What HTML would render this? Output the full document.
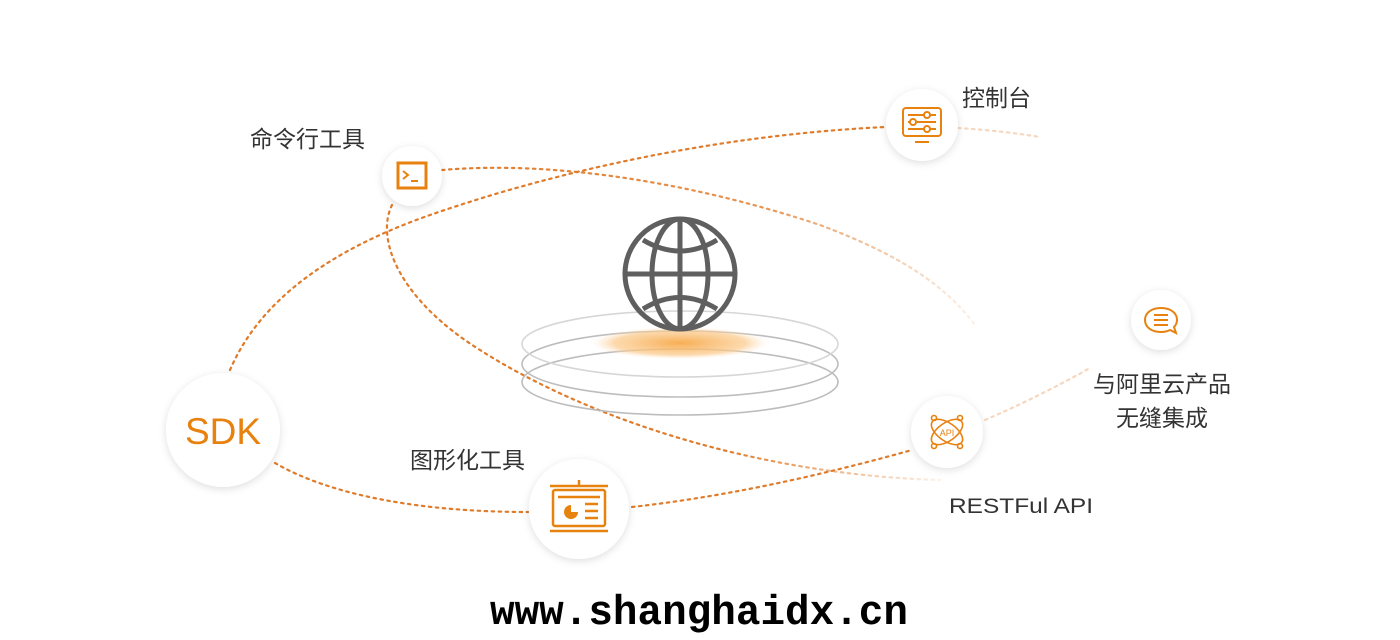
<!DOCTYPE html>
<html><head><meta charset="utf-8"><style>
html,body{margin:0;padding:0;background:#fff;width:1400px;height:640px;overflow:hidden}
</style></head><body>
<svg width="1400" height="640" viewBox="0 0 1400 640" xmlns="http://www.w3.org/2000/svg" font-family="'Liberation Sans','Noto Sans CJK SC',sans-serif">
<defs>
<filter id="sh" x="-30%" y="-30%" width="160%" height="160%"><feDropShadow dx="0" dy="2" stdDeviation="4" flood-color="#000" flood-opacity="0.13"/></filter>
<linearGradient id="fadeR" x1="0" y1="0" x2="1" y2="0"><stop offset="0" stop-color="#e07b2a"/><stop offset="0.6" stop-color="#e07b2a"/><stop offset="1" stop-color="#e07b2a" stop-opacity="0.1"/></linearGradient>
<linearGradient id="fadeR2" x1="0" y1="0" x2="1" y2="0"><stop offset="0" stop-color="#e07b2a"/><stop offset="0.6" stop-color="#e07b2a" stop-opacity="0.8"/><stop offset="1" stop-color="#e07b2a" stop-opacity="0.1"/></linearGradient>
<radialGradient id="glow" cx="0.5" cy="0.5" r="0.5"><stop offset="0" stop-color="#f7a94a" stop-opacity="0.95"/><stop offset="0.75" stop-color="#fbc98a" stop-opacity="0.7"/><stop offset="1" stop-color="#fde2c0" stop-opacity="0"/></radialGradient>
</defs>
<g fill="none" stroke-width="2.2" stroke-dasharray="2.5 4.5" stroke-linecap="round">
<path d="M230 370 C260 300 330 250 430 215 C560 170 720 135 885 127" stroke="#e07b2a"/>
<path d="M958 128 C990 130 1015 133 1040 137" stroke="#e07b2a" stroke-opacity="0.3"/>
<path d="M442 170 C560 160 700 185 820 225 C900 255 945 285 975 325" stroke="url(#fadeR2)"/>
<path d="M392 205 C375 240 400 300 480 350 C590 420 760 475 940 480" stroke="url(#fadeR)"/>
<path d="M275 463 C330 495 420 512 528 512" stroke="#e07b2a"/>
<path d="M632 507 C740 495 840 470 912 450" stroke="#e07b2a"/>
<path d="M985 420 C1020 405 1060 385 1090 368" stroke="#e07b2a" stroke-opacity="0.3"/>
</g>
<!-- platform -->
<g fill="none" stroke="#bdbdbd" stroke-width="1.6">
<ellipse cx="680" cy="382" rx="158" ry="33"/>
<ellipse cx="680" cy="364" rx="158" ry="33"/>
<ellipse cx="680" cy="344" rx="158" ry="33" stroke="#d6d6d6"/>
</g>
<ellipse cx="680" cy="343" rx="88" ry="16" fill="url(#glow)"/>
<!-- globe -->
<g fill="none" stroke="#5f5f5f" stroke-width="5">
<circle cx="680" cy="274" r="55"/>
<ellipse cx="680" cy="274" rx="28" ry="55"/>
<line x1="680" y1="219" x2="680" y2="329"/>
<line x1="625" y1="274" x2="735" y2="274"/>
<path d="M643 240 Q680 262 717 240"/>
<path d="M643 309 Q680 286 717 309"/>
</g>
<!-- nodes -->
<g fill="#fff" filter="url(#sh)">
<circle cx="412" cy="176" r="30"/>
<circle cx="922" cy="125" r="36"/>
<circle cx="223" cy="430" r="57"/>
<circle cx="579" cy="509" r="50"/>
<circle cx="947" cy="432" r="36"/>
<circle cx="1161" cy="320" r="30"/>
</g>
<!-- terminal icon -->
<g fill="none" stroke="#e8820f" stroke-width="3">
<rect x="398" y="163" width="28" height="25"/>
<path d="M403 171 l5 4 l-5 4" stroke-width="2"/><line x1="411" y1="181" x2="418" y2="181" stroke-width="2"/>
</g>
<!-- console icon -->
<g fill="none" stroke="#e8820f" stroke-width="2">
<rect x="903" y="108" width="38" height="28" rx="3"/>
<line x1="908" y1="115" x2="936" y2="115"/><line x1="908" y1="122" x2="936" y2="122"/><line x1="908" y1="129" x2="936" y2="129"/>
<circle cx="927" cy="115" r="3" fill="#fff"/><circle cx="913" cy="122" r="3" fill="#fff"/><circle cx="927" cy="129" r="3" fill="#fff"/>
<line x1="915" y1="142" x2="929" y2="142"/>
</g>
<text x="223" y="444" font-size="37" fill="#e8820f" text-anchor="middle">SDK</text>
<!-- graphic icon -->
<g fill="none" stroke="#e8820f" stroke-width="2.5">
<line x1="550" y1="486" x2="608" y2="486"/><line x1="579" y1="480" x2="579" y2="486"/>
<rect x="553" y="490" width="52" height="36" rx="2"/>
<line x1="550" y1="531" x2="608" y2="531"/>
<line x1="558" y1="497" x2="600" y2="497"/>
<line x1="585" y1="504" x2="598" y2="504"/><line x1="585" y1="511" x2="598" y2="511"/><line x1="585" y1="518" x2="598" y2="518"/>
</g>
<path d="M571 505 a7 7 0 1 0 7 7 h-7z" fill="#e8820f"/>
<!-- API icon -->
<g fill="none" stroke="#e8820f" stroke-width="1.6">
<ellipse cx="947" cy="432" rx="18" ry="9" transform="rotate(35 947 432)"/>
<ellipse cx="947" cy="432" rx="18" ry="9" transform="rotate(-35 947 432)"/>
<circle cx="934" cy="418" r="2.5"/><circle cx="960" cy="418" r="2.5"/><circle cx="934" cy="446" r="2.5"/><circle cx="960" cy="446" r="2.5"/>
</g>
<text x="947" y="436" font-size="9" fill="#e8820f" text-anchor="middle">API</text>
<!-- chat icon -->
<g fill="none" stroke="#e8820f" stroke-width="2">
<path d="M1161 308 c-11 0 -16 6 -16 12 c0 6 5 12 16 12 c4 0 7 -1 9 -2 l6 3 l-2 -6 c2 -2 3 -5 3 -7 c0 -6 -5 -12 -16 -12z"/>
<line x1="1154" y1="315" x2="1168" y2="315"/><line x1="1154" y1="320" x2="1168" y2="320"/><line x1="1154" y1="325" x2="1168" y2="325"/>
</g>
<!-- labels -->
<g fill="#333" font-size="23">
<text x="250" y="147">命令行工具</text>
<text x="962" y="106">控制台</text>
<text x="410" y="468">图形化工具</text>
<text x="1162" y="392" text-anchor="middle">与阿里云产品</text>
<text x="1162" y="426" text-anchor="middle">无缝集成</text>
<text x="949" y="513" font-size="21" textLength="144" lengthAdjust="spacingAndGlyphs">RESTFul API</text>
</g>
<text x="490" y="624" font-family="'Liberation Mono',monospace" font-weight="bold" font-size="42" fill="#000" textLength="418" lengthAdjust="spacingAndGlyphs">www.shanghaidx.cn</text>
</svg>
</body></html>
